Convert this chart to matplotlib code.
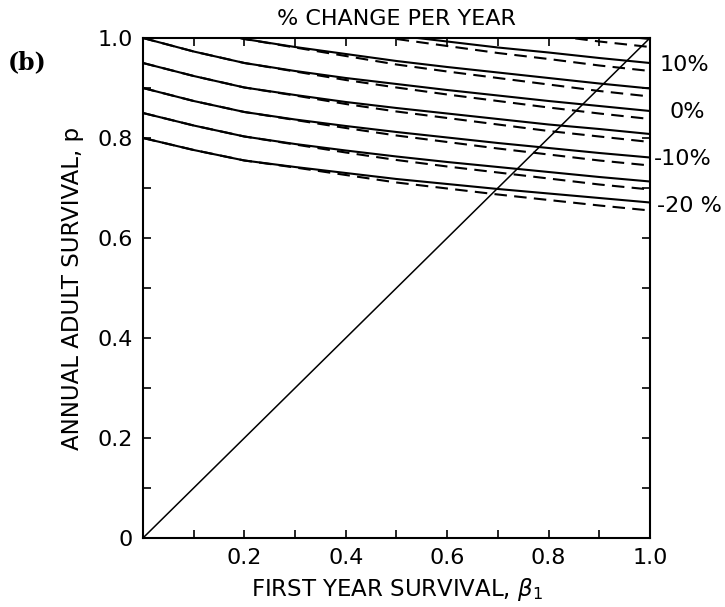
import matplotlib
matplotlib.use("Agg")
import matplotlib.pyplot as plt
from matplotlib.ticker import MultipleLocator, FixedLocator

# first year survival grid
beta1 = [0.0, 0.1, 0.2, 0.3, 0.4, 0.5, 0.6, 0.7, 0.8, 0.9, 1.0]

# solid curves, adult survival p for each growth rate (lambda)
solid_115 = [1.150, 1.122, 1.097, 1.081, 1.067, 1.054, 1.041, 1.030, 1.019, 1.008, 0.998]
solid_110 = [1.100, 1.072, 1.048, 1.032, 1.018, 1.005, 0.993, 0.981, 0.971, 0.960, 0.950]
solid_105 = [1.050, 1.022, 0.998, 0.982, 0.968, 0.954, 0.942, 0.931, 0.920, 0.909, 0.899]
solid_100 = [1.000, 0.973, 0.950, 0.934, 0.920, 0.908, 0.896, 0.885, 0.874, 0.864, 0.854]
solid_095 = [0.950, 0.924, 0.901, 0.886, 0.872, 0.860, 0.849, 0.838, 0.827, 0.818, 0.808]
solid_090 = [0.900, 0.874, 0.852, 0.837, 0.824, 0.812, 0.801, 0.790, 0.780, 0.770, 0.761]
solid_085 = [0.850, 0.825, 0.803, 0.788, 0.775, 0.763, 0.752, 0.742, 0.732, 0.722, 0.713]
solid_080 = [0.800, 0.776, 0.755, 0.742, 0.730, 0.718, 0.708, 0.698, 0.689, 0.680, 0.671]

# dashed curves
dashed_115 = [1.150, 1.122, 1.097, 1.080, 1.063, 1.047, 1.032, 1.019, 1.006, 0.993, 0.982]
dashed_110 = [1.100, 1.072, 1.048, 1.031, 1.014, 0.998, 0.984, 0.970, 0.958, 0.945, 0.934]
dashed_105 = [1.050, 1.022, 0.998, 0.981, 0.964, 0.947, 0.933, 0.920, 0.907, 0.894, 0.883]
dashed_100 = [1.000, 0.973, 0.950, 0.933, 0.916, 0.901, 0.887, 0.874, 0.861, 0.849, 0.838]
dashed_095 = [0.950, 0.924, 0.901, 0.885, 0.868, 0.853, 0.840, 0.827, 0.814, 0.803, 0.792]
dashed_090 = [0.900, 0.874, 0.852, 0.836, 0.820, 0.805, 0.792, 0.779, 0.767, 0.755, 0.745]
dashed_085 = [0.850, 0.825, 0.803, 0.787, 0.771, 0.756, 0.743, 0.731, 0.719, 0.707, 0.697]
dashed_080 = [0.800, 0.776, 0.755, 0.741, 0.726, 0.711, 0.699, 0.687, 0.676, 0.665, 0.655]

solid_curves = [solid_115, solid_110, solid_105, solid_100, solid_095, solid_090, solid_085, solid_080]
dashed_curves = [dashed_115, dashed_110, dashed_105, dashed_100, dashed_095, dashed_090, dashed_085, dashed_080]

# right-hand labels (% change per year) and their p positions
change_labels = ["10%", "0%", "-10%", "-20 %"]
change_label_p = [0.946, 0.852, 0.758, 0.664]
change_label_x = [1.019, 1.039, 1.008, 1.014]  # axes fraction

x_tick_vals = [0.2, 0.4, 0.6, 0.8, 1.0]
x_tick_labels = ["0.2", "0.4", "0.6", "0.8", "1.0"]
y_tick_vals = [0.0, 0.2, 0.4, 0.6, 0.8, 1.0]
y_tick_labels = ["0", "0.2", "0.4", "0.6", "0.8", "1.0"]

plt.rcParams['font.family'] = ['DejaVu Sans']

fig = plt.figure(figsize=(7.25, 6.07), dpi=100)
ax = fig.add_axes([0.1972, 0.1137, 0.6993, 0.8237])

for ys in solid_curves:
    ax.plot(beta1, ys, color='black', linewidth=1.5, solid_capstyle='butt')
for ys in dashed_curves:
    ax.plot(beta1, ys, color='black', linewidth=1.5, linestyle=(0, (6, 3.5)))

# p = beta1 diagonal
ax.plot([0, 1], [0, 1], color='black', linewidth=1.1)

ax.set_xlim(0, 1)
ax.set_ylim(0, 1)

ax.xaxis.set_major_locator(FixedLocator(x_tick_vals))
ax.set_xticklabels(x_tick_labels)
ax.yaxis.set_major_locator(FixedLocator(y_tick_vals))
ax.set_yticklabels(y_tick_labels)
ax.xaxis.set_minor_locator(MultipleLocator(0.1))
ax.yaxis.set_minor_locator(MultipleLocator(0.1))
ax.tick_params(which='both', direction='in', length=6, width=1.2,
               top=True, right=True, labelsize=16, pad=7)

for sp in ax.spines.values():
    sp.set_linewidth(1.5)

ax.set_xlabel(r"FIRST YEAR SURVIVAL, $\beta_1$", fontsize=16.5, labelpad=6)
ax.set_ylabel("ANNUAL ADULT SURVIVAL, p", fontsize=16.5, labelpad=10)
ax.set_title("% CHANGE PER YEAR", fontsize=16, pad=9)

ytrans = ax.get_yaxis_transform()
for lab, yp, xp in zip(change_labels, change_label_p, change_label_x):
    ax.text(xp, yp, lab, transform=ytrans, fontsize=16, ha='left', va='center')

fig.text(0.010, 1 - 62 / 607, "(b)", fontsize=17, fontweight='bold',
         family='DejaVu Serif', ha='left', va='center')

fig.savefig("out.png", dpi=100)
